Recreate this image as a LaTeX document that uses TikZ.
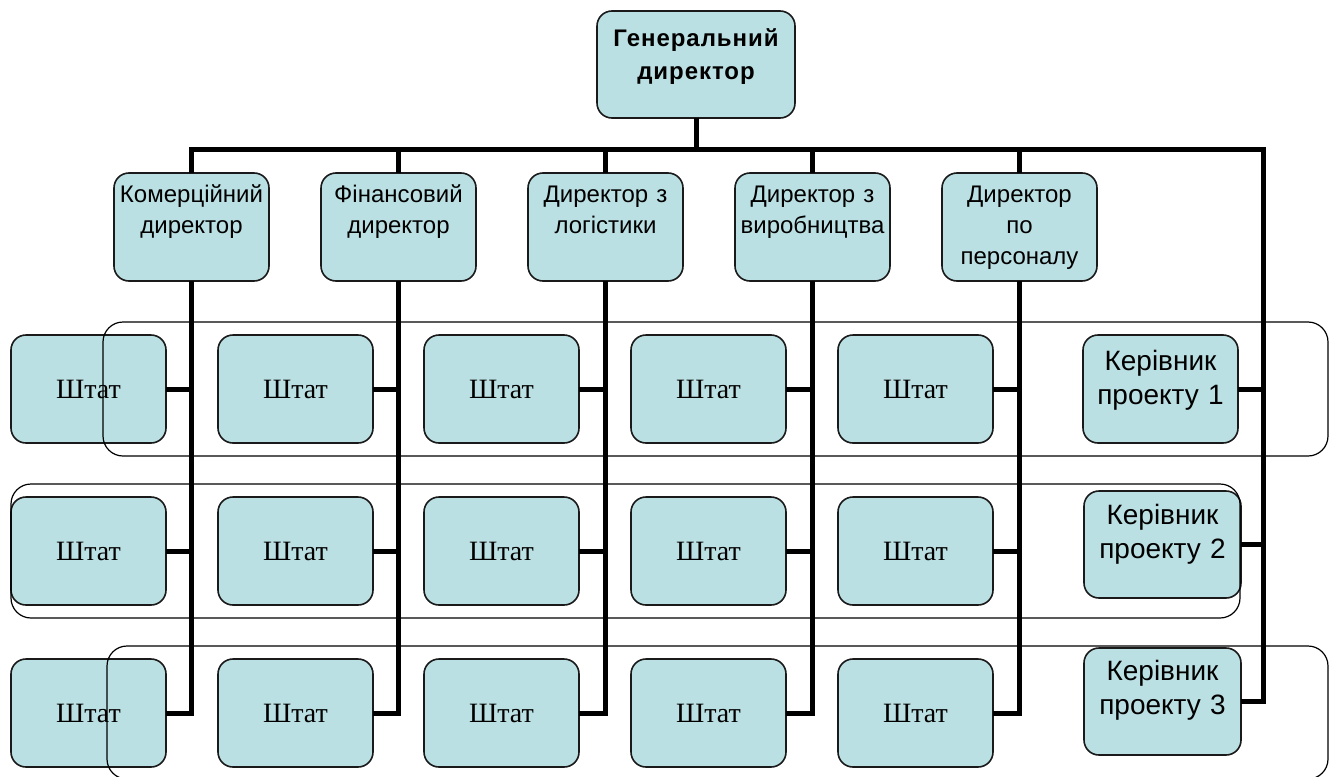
\documentclass[tikz,border=0pt]{standalone}
\usepackage{fontspec}
\setmainfont{Liberation Sans}
\newfontfamily\staffserif{Liberation Serif}
\newfontfamily\headfont[LetterSpace=4]{Liberation Sans}
\definecolor{boxfill}{HTML}{BBE0E3}
\definecolor{boxline}{HTML}{1A1A1A}

\begin{document}
\begin{tikzpicture}[x=1pt,y=-1pt,
  unit/.style={draw=boxline, line width=1.6pt, fill=boxfill, rounded corners=15pt,
               minimum width=155pt, minimum height=108pt, inner sep=0pt, outer sep=0pt},
  headbox/.style={unit, minimum width=198pt, minimum height=107pt},
  staff/.style={unit, font=\staffserif\fontsize{28}{30}\selectfont},
  dirtext/.style={anchor=north, inner sep=0pt, text width=155pt, align=center,
                  font=\fontsize{24}{31}\selectfont},
  headtext/.style={anchor=north, inner sep=0pt, text width=198pt, align=center,
                   font=\headfont\bfseries\fontsize{24}{33}\selectfont},
  pmtext/.style={anchor=north, inner sep=0pt, text width=155pt, align=center,
                 font=\fontsize{28}{34}\selectfont},
  link/.style={line width=5pt},
  team/.style={draw=black, line width=1.2pt, rounded corners=20pt}]

\useasboundingbox (0,0) rectangle (1329,776);
\clip (0,0) rectangle (1329,776);

% general director
\node[headbox] (gd) at (696,64.5) {};
\node[headtext] (gdt) at ([yshift=-11pt]gd.north) {\rule{0pt}{24pt}Генеральний\\директор};

% directors
\node[unit] (d1) at (191.5,227) {};
\node[unit] (d2) at (398.5,227) {};
\node[unit] (d3) at (605.5,227) {};
\node[unit] (d4) at (812.5,227) {};
\node[unit] (d5) at (1019.5,227) {};
\node[dirtext] (d1t) at ([yshift=-5pt]d1.north) {\rule{0pt}{24pt}Комерційний\\директор};
\node[dirtext] (d2t) at ([yshift=-5pt]d2.north) {\rule{0pt}{24pt}Фінансовий\\директор};
\node[dirtext] (d3t) at ([yshift=-5pt]d3.north) {\rule{0pt}{24pt}Директор з\\логістики};
\node[dirtext] (d4t) at ([yshift=-5pt]d4.north) {\rule{0pt}{24pt}Директор з\\виробництва};
\node[dirtext] (d5t) at ([yshift=-5pt]d5.north) {\rule{0pt}{24pt}Директор\\по\\персоналу};

% staff grid
\foreach \c/\x in {1/88.5,2/295.5,3/501.5,4/708.5,5/915.5}
  \foreach \r/\y in {1/389,2/551,3/713}
    \node[staff] (s\c\r) at (\x,\y) {Штат};

% project managers
\node[unit] (pm1) at (1160.5,389) {};
\node[unit, minimum width=157pt, minimum height=107pt] (pm2) at (1162.5,544.5) {};
\node[unit, minimum width=157pt, minimum height=107pt] (pm3) at (1162.5,701.5) {};
\node[pmtext] (pm1t) at ([yshift=-7pt]pm1.north) {\rule{0pt}{28pt}Керівник\\проекту 1};
\node[pmtext] (pm2t) at ([yshift=-5pt]pm2.north) {\rule{0pt}{28pt}Керівник\\проекту 2};
\node[pmtext] (pm3t) at ([yshift=-4pt]pm3.north) {\rule{0pt}{28pt}Керівник\\проекту 3};

% project teams
\draw[team] (103,322) rectangle (1328,456);
\draw[team] (11,484) rectangle (1240,618);
\draw[team] (107,646) rectangle (1328,779);

% main bus
\coordinate (busR) at (1263,149);
\draw[link] (d1.north) |- (busR) |- (pm3.east);
\draw[link] (gd.south) -- (gd.south |- busR);
\foreach \d in {2,3,4,5}
  \draw[link] (d\d.north) -- (d\d.north |- busR);
\draw[link] (pm1.east) -- (pm1.east -| busR);
\draw[link] (pm2.east) -- (pm2.east -| busR);

% director to staff
\foreach \c in {1,2,3,4,5}{
  \draw[link] (d\c.south) |- (s\c3.east);
  \draw[link] (s\c1.east) -- (s\c1.east -| d\c.south);
  \draw[link] (s\c2.east) -- (s\c2.east -| d\c.south);
}
\end{tikzpicture}
\end{document}
